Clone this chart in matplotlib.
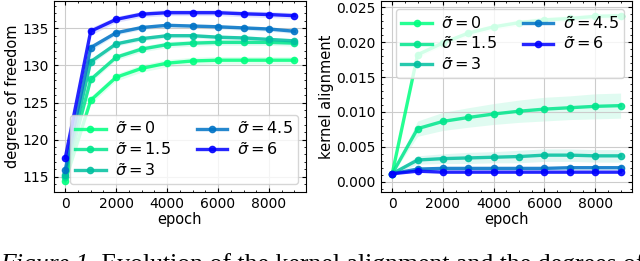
import matplotlib
matplotlib.use("Agg")
import matplotlib.pyplot as plt
import numpy as np

# epochs at which the metrics were logged
epochs = [0, 1000, 2000, 3000, 4000, 5000, 6000, 7000, 8000, 9000]
sigmas = ["0", "1.5", "3", "4.5", "6"]
# position of each sigma on the winter colormap
cmap_pos = [1.0, 0.9, 0.75, 0.45, 0.0]

# degrees of freedom (mean and spread) per sigma
dof = {
    "0":   [114.4, 125.3, 128.4, 129.6, 130.3, 130.6, 130.7, 130.7, 130.7, 130.7],
    "1.5": [114.9, 128.1, 131.1, 132.2, 132.8, 133.0, 133.1, 133.1, 133.1, 133.0],
    "3":   [115.3, 130.5, 132.9, 133.6, 134.0, 134.0, 133.8, 133.7, 133.5, 133.3],
    "4.5": [115.9, 132.4, 134.4, 135.1, 135.4, 135.3, 135.2, 135.05, 134.9, 134.6],
    "6":   [117.5, 134.6, 136.2, 136.9, 137.1, 137.1, 137.1, 136.95, 136.85, 136.7],
}
dof_std = {
    "0":   [0.3, 0.5, 0.5, 0.5, 0.5, 0.5, 0.5, 0.5, 0.5, 0.5],
    "1.5": [0.3, 0.4, 0.4, 0.4, 0.4, 0.4, 0.4, 0.4, 0.4, 0.4],
    "3":   [0.3, 0.4, 0.3, 0.3, 0.3, 0.3, 0.3, 0.3, 0.3, 0.3],
    "4.5": [0.3, 0.4, 0.3, 0.3, 0.3, 0.3, 0.3, 0.3, 0.3, 0.3],
    "6":   [0.3, 0.5, 0.4, 0.4, 0.4, 0.4, 0.4, 0.4, 0.4, 0.4],
}

# kernel alignment (mean and spread) per sigma
ka = {
    "0":   [0.00114, 0.0182, 0.0199, 0.0213, 0.0222, 0.0228, 0.0232, 0.0234, 0.0237, 0.0238],
    "1.5": [0.00114, 0.0076, 0.00864, 0.0092, 0.0097, 0.0101, 0.0104, 0.0106, 0.0108, 0.0109],
    "3":   [0.00114, 0.0031, 0.0033, 0.0034, 0.0035, 0.0036, 0.0038, 0.0038, 0.0037, 0.0037],
    "4.5": [0.00114, 0.0018, 0.0019, 0.0019, 0.0019, 0.0019, 0.0019, 0.0020, 0.0020, 0.0020],
    "6":   [0.00114, 0.0015, 0.00136, 0.00136, 0.00136, 0.00136, 0.00136, 0.00136, 0.00136, 0.00136],
}
ka_std = {
    "0":   [0.0001, 0.0004, 0.0004, 0.0004, 0.0004, 0.0004, 0.0004, 0.0004, 0.0004, 0.0004],
    "1.5": [0.0001, 0.0011, 0.0013, 0.0014, 0.0015, 0.0016, 0.0017, 0.0017, 0.0018, 0.0018],
    "3":   [0.0001, 0.0006, 0.0007, 0.0008, 0.0008, 0.0009, 0.0009, 0.0009, 0.0009, 0.0009],
    "4.5": [0.0001, 0.0002, 0.0002, 0.0002, 0.0002, 0.0002, 0.0002, 0.0002, 0.0002, 0.0002],
    "6":   [0.0001, 0.0001, 0.0001, 0.0001, 0.0001, 0.0001, 0.0001, 0.0001, 0.0001, 0.0001],
}

caption_italic = "Figure 1."
caption_rest = " Evolution of the kernel alignment and the degrees of"

plt.rcParams['font.size'] = 10
plt.rcParams['axes.labelsize'] = 10.5
plt.rcParams['xtick.direction'] = 'in'
plt.rcParams['ytick.direction'] = 'in'
plt.rcParams['xtick.top'] = True
plt.rcParams['ytick.right'] = True
plt.rcParams['xtick.minor.visible'] = True
plt.rcParams['ytick.minor.visible'] = True
plt.rcParams['xtick.major.size'] = 3
plt.rcParams['ytick.major.size'] = 3
plt.rcParams['xtick.minor.size'] = 1.5
plt.rcParams['ytick.minor.size'] = 1.5

fig = plt.figure(figsize=(6.4, 2.61), dpi=100)
ax1 = fig.add_axes([0.084, 0.264, 0.394, 0.732])
ax2 = fig.add_axes([0.595, 0.264, 0.3925, 0.732])

cmap = plt.get_cmap('winter')
ep = np.array(epochs)

for s, p in zip(sigmas, cmap_pos):
    c = cmap(p)
    lab = r'$\tilde{\sigma} = ' + s + '$'
    m = np.array(dof[s]); sd = np.array(dof_std[s])
    ax1.fill_between(ep, m - sd, m + sd, color=c, alpha=0.12, lw=0)
    ax1.plot(ep, m, '-o', color=c, lw=2.4, ms=4.5, alpha=0.85, label=lab)
    m = np.array(ka[s]); sd = np.array(ka_std[s])
    ax2.fill_between(ep, m - sd, m + sd, color=c, alpha=0.12, lw=0)
    ax2.plot(ep, m, '-o', color=c, lw=2.4, ms=4.5, alpha=0.85, label=lab)

leg_kw = dict(ncol=2, fontsize=11.5, handlelength=1.9, columnspacing=1.6,
              labelspacing=0.22, borderpad=0.35, handletextpad=0.6,
              framealpha=0.8)

for ax in (ax1, ax2):
    ax.set_xticks([0, 2000, 4000, 6000, 8000])
    ax.grid(True, color='#cccccc', lw=0.8)
    ax.set_xlabel('epoch', labelpad=1)

ax1.set_yticks([115, 120, 125, 130, 135])
ax1.set_ylabel('degrees of freedom', labelpad=2)
ax1.legend(loc='lower right', **leg_kw)
ax2.set_ylim(-0.0015, 0.0259)
ax2.set_ylabel('kernel alignment', labelpad=2)
ax2.legend(loc='upper right', **leg_kw)

# caption below the panels, cut off by the image edge as in the source
t1 = fig.text(0.0, -10 / 261, caption_italic, fontsize=18.5, family='Liberation Serif',
              style='italic', va='baseline', ha='left')
fig.canvas.draw()
bb = t1.get_window_extent()
fig.text(bb.x1 / fig.bbox.width, -10 / 261, caption_rest, fontsize=18.5,
         family='Liberation Serif', va='baseline', ha='left')

fig.savefig('out.png', dpi=100)
